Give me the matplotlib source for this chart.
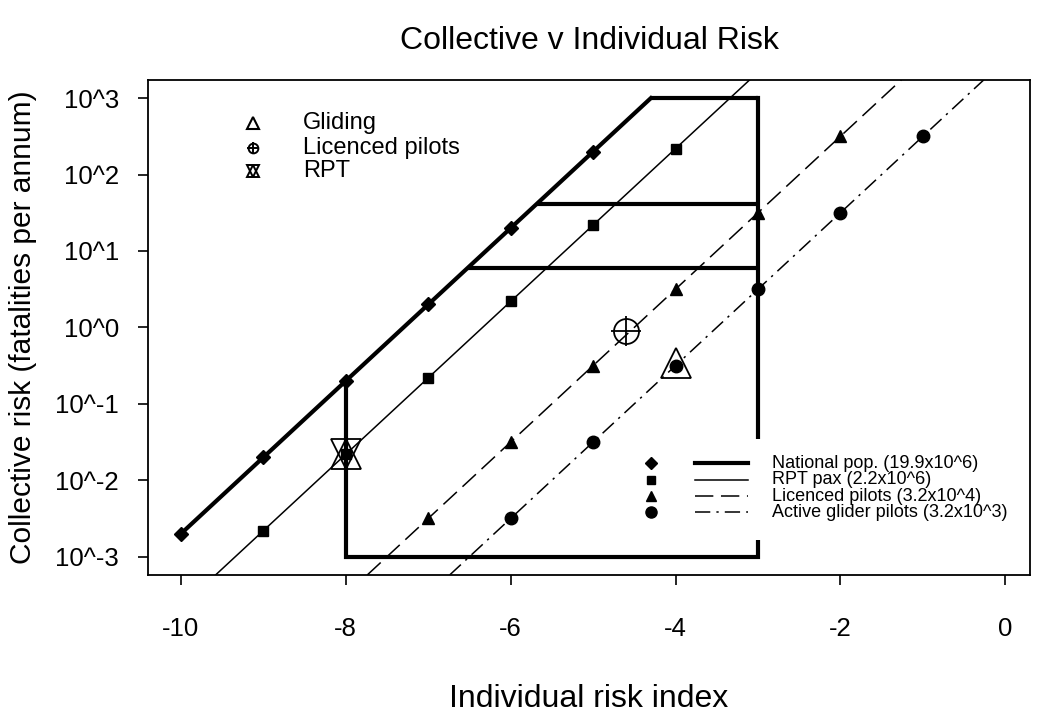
import numpy as np
import matplotlib.pyplot as plt

plt.rcParams['font.family'] = ['Liberation Sans', 'DejaVu Sans']

# individual risk index (log10) and collective risk (log10 fatalities per annum)
nat_x = [-10, -9, -8, -7, -6, -5]
nat_y = [-2.7, -1.7, -0.7, 0.3, 1.3, 2.3]
rpt_x = [-9, -8, -7, -6, -5, -4]
rpt_y = [-2.66, -1.66, -0.66, 0.34, 1.34, 2.34]
lic_x = [-7, -6, -5, -4, -3, -2]
lic_y = [-2.5, -1.5, -0.5, 0.5, 1.5, 2.5]
gli_x = [-6, -5, -4, -3, -2, -1]
gli_y = [-2.5, -1.5, -0.5, 0.5, 1.5, 2.5]

series_labels = ['National pop. (19.9x10^6)', 'RPT pax (2.2x10^6)',
                 'Licenced pilots (3.2x10^4)', 'Active glider pilots (3.2x10^3)']

# region boundary: upper end of national line, band levels, box edges
nat_end = (-4.3, 3.0)
band_y = [0.78, 1.62, 3.0]
box_left, box_right, box_bottom = -8, -3, -3

# highlighted points
gliding = (-4.0, -0.47)
licenced = (-4.6, -0.05)
rpt_pt = (-8.0, -1.66)

yticks = [-3, -2, -1, 0, 1, 2, 3]
ytick_labels = ['10^-3', '10^-2', '10^-1', '10^0', '10^1', '10^2', '10^3']
xticks = [-10, -8, -6, -4, -2, 0]

fig = plt.figure(figsize=(10.42, 7.19), dpi=100)
ax = fig.add_axes([0.142, 0.2003, 0.8465, 0.6887])
ax.set_xlim(-10.4, 0.3)
ax.set_ylim(-3.24, 3.24)

thick = 3.0
thin = 1.1

# national pop line (segment) and the bounded region
ax.plot([nat_x[0], nat_end[0]], [nat_y[0], nat_end[1]], color='black', lw=thick)
ax.plot(nat_x, nat_y, 'D', color='black', ms=7)
for b in band_y:
    ax.plot([b - (nat_y[0] - nat_x[0]), box_right], [b, b], color='black', lw=thick,
            solid_capstyle='butt')
ax.plot([box_left, box_left, box_right, box_right],
        [box_left - (nat_x[0] - nat_y[0]), box_bottom, box_bottom, band_y[-1]],
        color='black', lw=thick, solid_joinstyle='miter')

# other populations: infinite lines of slope 1
ax.axline((rpt_x[0], rpt_y[0]), slope=1, color='black', lw=thin)
ax.plot(rpt_x, rpt_y, 's', color='black', ms=7)
ax.axline((lic_x[0], lic_y[0]), slope=1, color='black', lw=thin, dashes=(12, 5))
ax.plot(lic_x, lic_y, '^', color='black', ms=8)
ax.axline((gli_x[0], gli_y[0]), slope=1, color='black', lw=thin, dashes=(10, 4, 1.5, 4))
ax.plot(gli_x, gli_y, 'o', color='black', ms=9)

# highlighted points
ax.plot(*gliding, '^', mfc='none', mec='black', mew=1.3, ms=22)
ax.plot(*licenced, 'o', mfc='none', mec='black', mew=1.3, ms=18)
ax.plot(*licenced, '+', color='black', mew=1.3, ms=22)
ax.plot(*rpt_pt, '^', mfc='none', mec='black', mew=1.3, ms=22)
ax.plot(*rpt_pt, 'v', mfc='none', mec='black', mew=1.3, ms=22)

# top-left legend (special points)
tl = ax.transAxes
lx_m, lx_t = 0.119, 0.176
rows = [0.912, 0.863, 0.815]
ax.plot(lx_m, rows[0], '^', mfc='none', mec='black', mew=1.5, ms=8, transform=tl)
ax.plot(lx_m, rows[1], 'o', mfc='none', mec='black', mew=1.4, ms=7, transform=tl)
ax.plot(lx_m, rows[1], '+', color='black', mew=1.4, ms=9, transform=tl)
ax.plot(lx_m, rows[2], '^', mfc='none', mec='black', mew=1.4, ms=8, transform=tl)
ax.plot(lx_m, rows[2], 'v', mfc='none', mec='black', mew=1.4, ms=8, transform=tl)
for r, lab in zip(rows, ['Gliding', 'Licenced pilots', 'RPT']):
    ax.text(lx_t, r, lab, transform=tl, fontsize=17, va='center', ha='left')

# bottom-right legend (populations)
ax.add_patch(plt.Rectangle((0.555, 0.07), 0.44, 0.205, transform=tl,
                           facecolor='white', edgecolor='none', zorder=3))
mk = [('D', 6), ('s', 6), ('^', 7), ('o', 8)]
ls = [dict(lw=thick), dict(lw=thin), dict(lw=thin, dashes=(12, 5)),
      dict(lw=thin, dashes=(10, 4, 1.5, 4))]
rrows = [0.226, 0.192, 0.159, 0.127]
for r, (m, s), st, lab in zip(rrows, mk, ls, series_labels):
    ax.plot(0.57, r, m, color='black', ms=s, transform=tl, zorder=4)
    ax.plot([0.620, 0.680], [r, r], color='black', transform=tl, zorder=4, **st)
    ax.text(0.7075, r, lab, transform=tl, fontsize=13, va='center', ha='left', zorder=4)

ax.set_xticks(xticks)
ax.set_xticklabels([str(t) for t in xticks])
ax.set_yticks(yticks)
ax.set_yticklabels(ytick_labels)
ax.tick_params(axis='x', length=7, width=1.2, pad=23, labelsize=18.5)
ax.tick_params(axis='y', length=7, width=1.2, pad=14, labelsize=18.5)
for sp in ax.spines.values():
    sp.set_linewidth(1.3)

ax.set_xlabel('Individual risk index', fontsize=23, labelpad=31)
ax.set_ylabel('Collective risk (fatalities per annum)', fontsize=21.5, labelpad=13)
fig.suptitle('Collective v Individual Risk', fontsize=23, x=0.566, y=0.964)

fig.savefig('out.png', dpi=100)
